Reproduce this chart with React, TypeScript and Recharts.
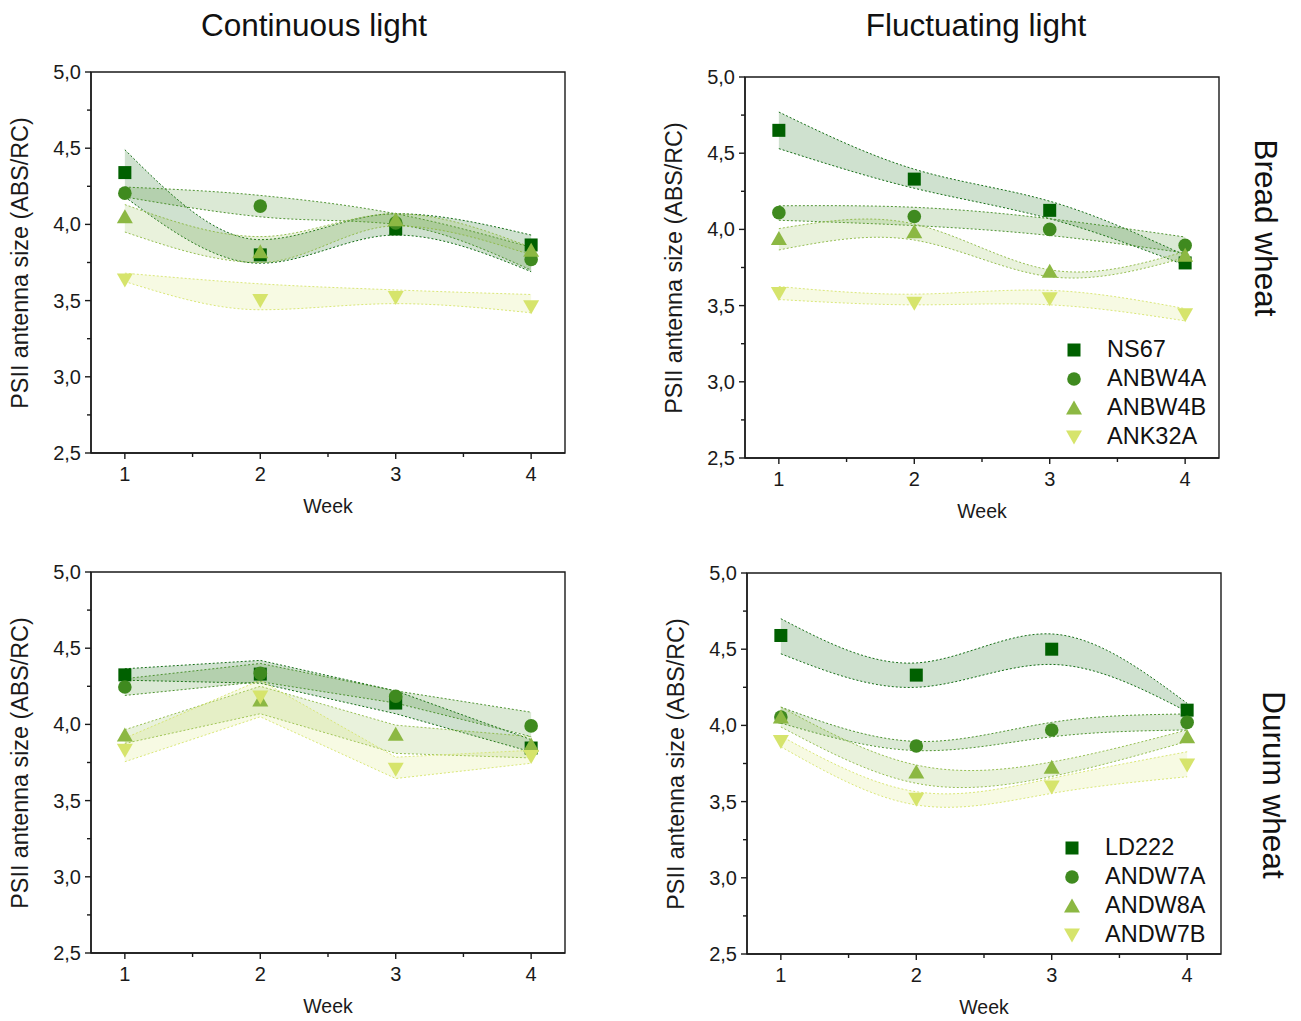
import React from "react";
import { ComposedChart, Area, Scatter, XAxis, YAxis, Legend, ReferenceArea } from "recharts";

const weeks = [1, 2, 3, 4];
const xTicks = [1, 1.5, 2, 2.5, 3, 3.5, 4];
const yTicks = [2.5, 2.75, 3, 3.25, 3.5, 3.75, 4, 4.25, 4.5, 4.75, 5];

const breadNames = ["NS67", "ANBW4A", "ANBW4B", "ANK32A"];
const durumNames = ["LD222", "ANDW7A", "ANDW8A", "ANDW7B"];
const colors = ["#006000", "#3f8a1f", "#8cb843", "#d6e46c"];
const shapes = ["square", "circle", "triangle", "triangleDown"];

// continuous light, bread wheat (one row per genotype, weeks 1-4)
const contBreadMean = [
  [4.34, 3.8, 3.97, 3.865],
  [4.205, 4.12, 4.01, 3.77],
  [4.05, 3.82, 4.03, 3.83],
  [3.635, 3.5, 3.52, 3.46],
];
const contBreadLow = [
  [4.18, 3.745, 3.93, 3.69],
  [4.18, 4.05, 4.0, 3.7],
  [3.95, 3.75, 3.99, 3.8],
  [3.625, 3.44, 3.48, 3.42],
];
const contBreadHigh = [
  [4.49, 3.9, 4.07, 3.93],
  [4.245, 4.19, 4.07, 3.85],
  [4.13, 3.92, 4.07, 3.85],
  [3.68, 3.61, 3.57, 3.54],
];

// fluctuating light, bread wheat
const flucBreadMean = [
  [4.65, 4.33, 4.125, 3.78],
  [4.11, 4.085, 4.0, 3.895],
  [3.94, 3.985, 3.725, 3.83],
  [3.58, 3.515, 3.545, 3.44],
];
const flucBreadLow = [
  [4.53, 4.27, 4.07, 3.765],
  [4.06, 4.025, 3.96, 3.845],
  [3.865, 3.93, 3.69, 3.815],
  [3.54, 3.505, 3.505, 3.4],
];
const flucBreadHigh = [
  [4.77, 4.395, 4.185, 3.83],
  [4.155, 4.145, 4.07, 3.95],
  [4.005, 4.035, 3.735, 3.855],
  [3.625, 3.575, 3.6, 3.48],
];

// continuous light, durum wheat
const contDurumMean = [
  [4.325, 4.33, 4.14, 3.845],
  [4.245, 4.335, 4.185, 3.99],
  [3.93, 4.16, 3.935, 3.865],
  [3.83, 4.18, 3.705, 3.79],
];
const contDurumLow = [
  [4.29, 4.27, 4.07, 3.82],
  [4.19, 4.28, 4.14, 3.92],
  [3.875, 4.07, 3.81, 3.78],
  [3.755, 4.05, 3.645, 3.745],
];
const contDurumHigh = [
  [4.365, 4.42, 4.22, 3.9],
  [4.3, 4.4, 4.22, 4.08],
  [3.965, 4.25, 3.995, 3.92],
  [3.91, 4.29, 3.785, 3.83],
];

// fluctuating light, durum wheat
const flucDurumMean = [
  [4.59, 4.33, 4.5, 4.1],
  [4.055, 3.865, 3.97, 4.02],
  [4.055, 3.695, 3.725, 3.925],
  [3.895, 3.515, 3.595, 3.74],
];
const flucDurumLow = [
  [4.47, 4.25, 4.4, 4.09],
  [4.015, 3.835, 3.925, 3.97],
  [3.99, 3.62, 3.665, 3.895],
  [3.86, 3.478, 3.554, 3.663],
];
const flucDurumHigh = [
  [4.7, 4.41, 4.6, 4.145],
  [4.12, 3.895, 4.02, 4.075],
  [4.12, 3.74, 3.76, 3.97],
  [3.93, 3.565, 3.653, 3.827],
];

const FONT = '"Liberation Sans", Arial, sans-serif';
const AXIS = { stroke: "#1a1a1a", strokeWidth: 1.4 };

const ML = 70;
const MT = 20;
const MR = 20;
const PW = 474;
const PH = 381;
const XH = 40;
const MB = 10;
const W = ML + PW + MR;
const H = MT + PH + XH + MB;

function Marker({ cx, cy, shape, color }: any) {
  if (shape === "square") return <rect x={cx - 6.5} y={cy - 6.5} width={13} height={13} fill={color} />;
  if (shape === "circle") return <circle cx={cx} cy={cy} r={6.8} fill={color} />;
  if (shape === "triangle")
    return <polygon points={`${cx},${cy - 7.5} ${cx + 8},${cy + 6.5} ${cx - 8},${cy + 6.5}`} fill={color} />;
  return <polygon points={`${cx - 8},${cy - 6.5} ${cx + 8},${cy - 6.5} ${cx},${cy + 7.5}`} fill={color} />;
}

function XTick({ x, y, payload }: any) {
  const major = Number.isInteger(payload.value);
  return (
    <g>
      <line x1={x} x2={x} y1={y} y2={y + (major ? 6 : 4)} stroke="#1a1a1a" strokeWidth={1.4} />
      {major && (
        <text x={x} y={y + 28} textAnchor="middle" fontSize={20} fontFamily={FONT} fill="#1a1a1a">
          {payload.value}
        </text>
      )}
    </g>
  );
}

function YTick({ x, y, payload }: any) {
  const v = payload.value;
  const major = Math.abs(v * 2 - Math.round(v * 2)) < 1e-6;
  return (
    <g>
      <line x1={x - (major ? 6 : 4)} x2={x} y1={y} y2={y} stroke="#1a1a1a" strokeWidth={1.4} />
      {major && (
        <text x={x - 10} y={y + 7} textAnchor="end" fontSize={20} fontFamily={FONT} fill="#1a1a1a">
          {v.toFixed(1).replace(".", ",")}
        </text>
      )}
    </g>
  );
}

function LegendBox({ names }: any) {
  return (
    <div style={{ fontFamily: FONT }}>
      {names.map((n: string, i: number) => (
        <div key={n} style={{ display: "flex", alignItems: "center", height: 29 }}>
          <svg width={20} height={20}>
            <Marker cx={10} cy={10} shape={shapes[i]} color={colors[i]} />
          </svg>
          <span style={{ marginLeft: 23, fontSize: 23.5, color: "#111" }}>{n}</span>
        </div>
      ))}
    </div>
  );
}

function Panel({ plotLeft, plotTop, means, lows, highs, names, curve, legend }: any) {
  const rows = weeks.map((w, i) => {
    const r: any = { week: w };
    means.forEach((m: number[], s: number) => {
      r[`m${s}`] = m[i];
      r[`b${s}`] = [lows[s][i], highs[s][i]];
    });
    return r;
  });
  return (
    <div style={{ position: "absolute", left: plotLeft - ML, top: plotTop - MT, width: W, height: H }}>
      <ComposedChart width={W} height={H} data={rows} margin={{ top: MT, right: MR, bottom: MB, left: 10 }}>
        <XAxis
          dataKey="week"
          type="number"
          domain={[0.75, 4.25]}
          ticks={xTicks}
          interval={0}
          allowDataOverflow
          height={XH}
          tickSize={0}
          tickMargin={0}
          tickLine={false}
          axisLine={AXIS}
          tick={<XTick />}
        />
        <YAxis
          type="number"
          domain={[2.5, 5]}
          ticks={yTicks}
          interval={0}
          allowDataOverflow
          width={60}
          tickSize={0}
          tickMargin={0}
          tickLine={false}
          axisLine={AXIS}
          tick={<YTick />}
        />
        {means.map((_: any, s: number) => (
          <Area
            key={`band${s}`}
            dataKey={`b${s}`}
            type={curve}
            fill={colors[s]}
            fillOpacity={0.19}
            stroke={colors[s]}
            strokeOpacity={0.9}
            strokeWidth={1}
            strokeDasharray="2 2"
            dot={false}
            activeDot={false}
            isAnimationActive={false}
          />
        ))}
        {means.map((_: any, s: number) => (
          <Scatter
            key={`pts${s}`}
            name={names[s]}
            dataKey={`m${s}`}
            shape={(p: any) => <Marker cx={p.cx} cy={p.cy} shape={shapes[s]} color={colors[s]} />}
            isAnimationActive={false}
          />
        ))}
        {/* plot frame (top and right edges) */}
        <ReferenceArea
          x1={0.75}
          x2={4.25}
          y1={2.5}
          y2={5}
          fill="none"
          stroke="#1a1a1a"
          strokeWidth={1.4}
          ifOverflow="visible"
        />
        {legend && (
          <Legend
            layout="vertical"
            align="center"
            verticalAlign="middle"
            wrapperStyle={{ left: legend[0], top: legend[1], width: 170 }}
            content={() => <LegendBox names={names} />}
          />
        )}
      </ComposedChart>
      <div
        style={{
          position: "absolute",
          left: ML - 71,
          top: MT + PH / 2,
          transform: "translate(-50%, -50%) rotate(-90deg)",
          whiteSpace: "nowrap",
          fontFamily: FONT,
          fontSize: 23.3,
          color: "#1a1a1a",
        }}
      >
        PSII antenna size (ABS/RC)
      </div>
      <div
        style={{
          position: "absolute",
          left: ML + PW / 2,
          top: MT + PH + 53,
          transform: "translate(-50%, -50%)",
          whiteSpace: "nowrap",
          fontFamily: FONT,
          fontSize: 19.5,
          color: "#1a1a1a",
        }}
      >
        Week
      </div>
    </div>
  );
}

function Caption({ x, y, text, rotate }: any) {
  return (
    <div
      style={{
        position: "absolute",
        left: x,
        top: y,
        transform: `translate(-50%, -50%)${rotate ? " rotate(90deg)" : ""}`,
        whiteSpace: "nowrap",
        fontFamily: FONT,
        fontSize: 31.5,
        color: "#111",
      }}
    >
      {text}
    </div>
  );
}

export default function App() {
  return (
    <div style={{ position: "absolute", left: 0, top: 0, width: 1301, height: 1021, background: "#fff" }}>
      <Caption x={314} y={25} text="Continuous light" />
      <Caption x={976} y={25} text="Fluctuating light" />
      <Caption x={1265} y={228} text="Bread wheat" rotate />
      <Caption x={1273} y={785} text="Durum wheat" rotate />
      <Panel
        plotLeft={91}
        plotTop={72}
        means={contBreadMean}
        lows={contBreadLow}
        highs={contBreadHigh}
        names={breadNames}
        curve="monotone"
      />
      <Panel
        plotLeft={745}
        plotTop={77}
        means={flucBreadMean}
        lows={flucBreadLow}
        highs={flucBreadHigh}
        names={breadNames}
        curve="natural"
        legend={[389, 278]}
      />
      <Panel
        plotLeft={91}
        plotTop={572}
        means={contDurumMean}
        lows={contDurumLow}
        highs={contDurumHigh}
        names={durumNames}
        curve="linear"
      />
      <Panel
        plotLeft={747}
        plotTop={573}
        means={flucDurumMean}
        lows={flucDurumLow}
        highs={flucDurumHigh}
        names={durumNames}
        curve="natural"
        legend={[385, 280]}
      />
    </div>
  );
}
